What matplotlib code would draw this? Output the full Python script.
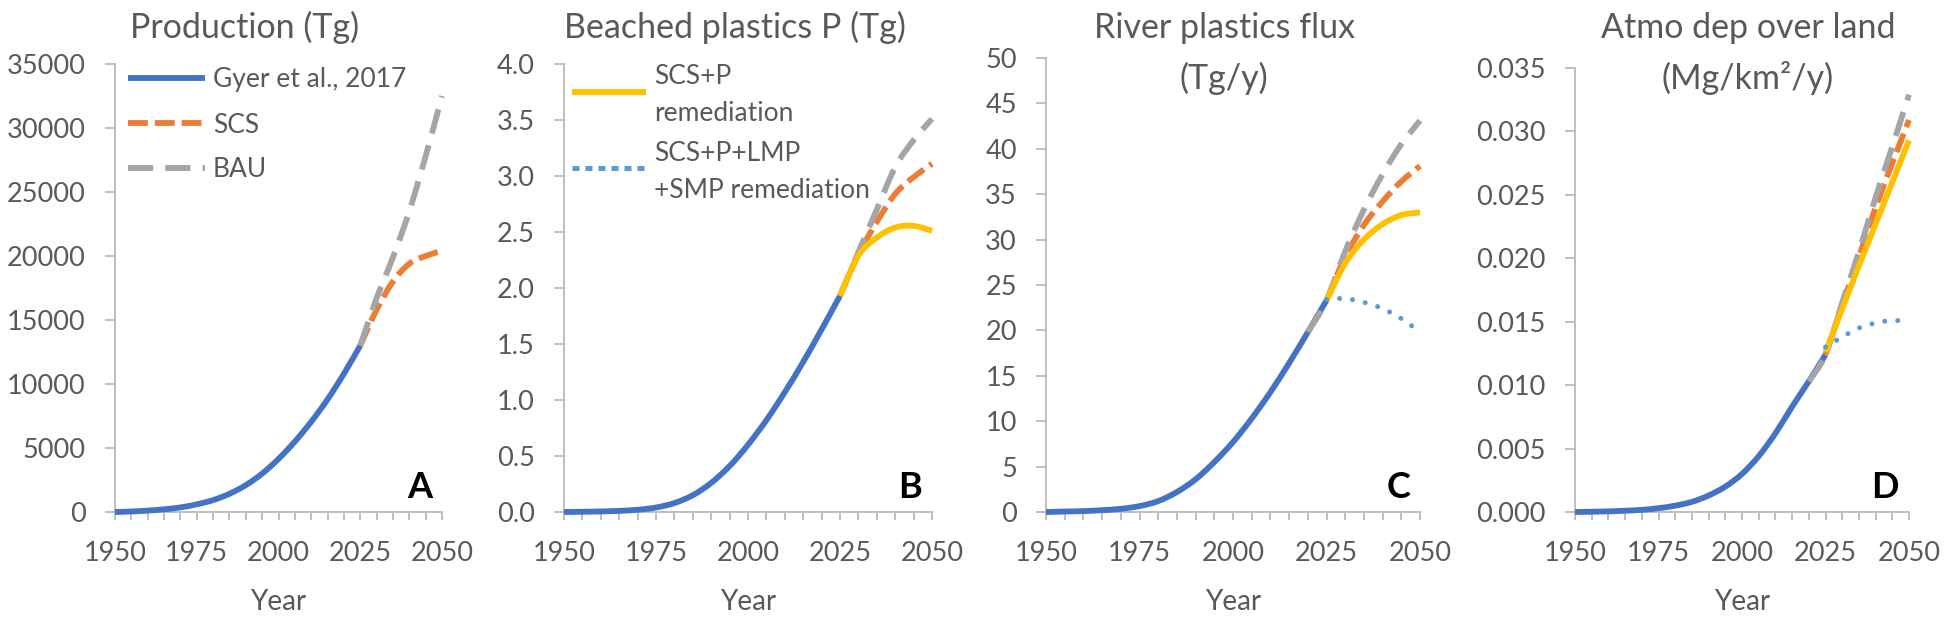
import matplotlib
matplotlib.use("Agg")
import matplotlib.pyplot as plt
from matplotlib.lines import Line2D
from matplotlib.path import Path
from matplotlib.patches import PathPatch
from matplotlib.ticker import MultipleLocator, FormatStrFormatter

plt.rcParams['font.family'] = ['Lato', 'DejaVu Sans']

# ---------------- data ----------------
hist_years = [1950, 1955, 1960, 1965, 1970, 1975, 1980, 1985, 1990, 1995,
              2000, 2005, 2010, 2015, 2020, 2025]
proj_years = [2025, 2030, 2035, 2040, 2045, 2050]
proj_years_bau_cd = [2020, 2025, 2030, 2035, 2040, 2045, 2050]

# A: Production (Tg)
prodA_hist = [0, 40, 110, 210, 360, 600, 930, 1420, 2100, 3000,
              4150, 5500, 7050, 8800, 10800, 13000]
prodA_scs = [13000, 15800, 18000, 19400, 20000, 20400]
prodA_bau = [13000, 16700, 19900, 23500, 27800, 32500]

# B: Beached plastics P (Tg)
beachB_hist = [0, 0.002, 0.005, 0.01, 0.02, 0.04, 0.08, 0.15, 0.26, 0.41,
               0.60, 0.82, 1.07, 1.34, 1.63, 1.93]
beachB_scs = [1.93, 2.30, 2.59, 2.84, 2.99, 3.11]
beachB_bau = [1.93, 2.32, 2.70, 3.08, 3.32, 3.51]
beachB_scsp = [1.93, 2.29, 2.45, 2.54, 2.555, 2.51]

# C: River plastics flux (Tg/y)
riverC_hist = [0, 0.05, 0.1, 0.2, 0.35, 0.65, 1.2, 2.2, 3.6, 5.5,
               7.7, 10.3, 13.2, 16.4, 19.8, 23.3]
riverC_scs = [23.3, 28.1, 31.6, 34.2, 36.4, 38.1]
riverC_bau = [19.8, 23.3, 28.7, 33.3, 37.2, 40.5, 43.1]
riverC_scsp = [23.3, 27.4, 30.0, 31.7, 32.7, 33.0]
riverC_all = [23.4, 23.5, 23.1, 22.4, 21.3, 19.8]

# D: Atmo dep over land (Mg/km2/y)
atmoD_hist = [0, 0.00002, 0.00005, 0.0001, 0.00017, 0.0003, 0.0005, 0.0008,
              0.0013, 0.0020, 0.0030, 0.0044, 0.0062, 0.0083, 0.0103, 0.0124]
atmoD_scs = [0.0124, 0.0163, 0.0201, 0.0240, 0.0275, 0.0309]
atmoD_bau = [0.0103, 0.0124, 0.0165, 0.0205, 0.0248, 0.0288, 0.0329]
atmoD_scsp = [0.0126, 0.0160, 0.0194, 0.0227, 0.0260, 0.0293]
atmoD_all = [0.0130, 0.0138, 0.0145, 0.0149, 0.0151, 0.0150]

titles = [["Production (Tg)"], ["Beached plastics P (Tg)"],
          ["River plastics flux", "(Tg/y)"],
          ["Atmo dep over land", "(Mg/km\u00b2/y)"]]
letters = ["A", "B", "C", "D"]
ylims = [(0, 35000), (0, 4.0), (0, 50), (0, 0.035)]
ysteps = [5000, 0.5, 5, 0.005]
yfmts = ["%d", "%.1f", "%d", "%.3f"]
xticks = [1950, 1975, 2000, 2025, 2050]

legend_labels_A = ["Gyer et al., 2017", "SCS", "BAU"]
legend_labels_B = [["SCS+P", "remediation"], ["SCS+P+LMP", "+SMP remediation"]]

# ---------------- style ----------------
C_BLUE = "#4472C4"
C_ORANGE = "#ED7D31"
C_GRAY = "#A5A5A5"
C_YELLOW = "#FFC000"
C_DOT = "#5B9BD5"
TXT = "#595959"
SPINE = "#BFBFBF"

W, H = 1944, 621
fig = plt.figure(figsize=(W / 100, H / 100), dpi=100)


def fx(px):
    return px / W


def fy(py):
    return 1 - py / H


# axes boxes in pixels: left, right, bottom(y from top), top(y from top)
boxes = [(115, 442, 512, 64), (564, 932, 512, 64),
         (1046, 1420, 512, 58), (1575, 1909, 512, 68)]

LW = 4.2
ORANGE_DASH = (3.4, 1.2)
GRAY_DASH = (4.3, 2.1)
DOT_LW = 3.6
DOT_DASH = (0.01, 2.6)


def smooth_line(ax, x, y, z, **kw):
    """Excel-style smoothed line: Catmull-Rom segments as cubic Beziers."""
    pts = list(zip(x, y))
    n = len(pts)
    verts = [pts[0]]
    codes = [Path.MOVETO]
    for i in range(n - 1):
        p0 = pts[i - 1] if i > 0 else pts[i]
        p1 = pts[i]
        p2 = pts[i + 1]
        p3 = pts[i + 2] if i + 2 < n else pts[i + 1]
        c1 = (p1[0] + (p2[0] - p0[0]) / 6.0, p1[1] + (p2[1] - p0[1]) / 6.0)
        c2 = (p2[0] - (p3[0] - p1[0]) / 6.0, p2[1] - (p3[1] - p1[1]) / 6.0)
        verts += [c1, c2, p2]
        codes += [Path.CURVE4] * 3
    patch = PathPatch(Path(verts, codes), fill=False, zorder=z, **kw)
    patch.set_clip_on(False)
    ax.add_patch(patch)


def plot_hist(ax, x, y):
    smooth_line(ax, x, y, 3, edgecolor=C_BLUE, lw=LW, capstyle='butt',
                joinstyle='round')


def plot_scs(ax, x, y):
    smooth_line(ax, x, y, 4, edgecolor=C_ORANGE, lw=LW, capstyle='butt',
                linestyle=(0, ORANGE_DASH))


def plot_bau(ax, x, y):
    smooth_line(ax, x, y, 5, edgecolor=C_GRAY, lw=LW, capstyle='butt',
                linestyle=(0, GRAY_DASH))


def plot_scsp(ax, x, y):
    smooth_line(ax, x, y, 6, edgecolor=C_YELLOW, lw=LW, capstyle='butt',
                joinstyle='round')


def plot_all(ax, x, y):
    smooth_line(ax, x, y, 7, edgecolor=C_DOT, lw=DOT_LW, capstyle='round',
                linestyle=(0, DOT_DASH))


axes = []
for i, (l, r, b, t) in enumerate(boxes):
    ax = fig.add_axes([l / W, (H - b) / H, (r - l) / W, (b - t) / H])
    axes.append(ax)
    ax.set_xlim(1950, 2050)
    ax.set_ylim(*ylims[i])
    for s in ['top', 'right']:
        ax.spines[s].set_visible(False)
    for s in ['left', 'bottom']:
        ax.spines[s].set_color(SPINE)
        ax.spines[s].set_linewidth(1.4)
    ax.set_xticks(xticks)
    ax.xaxis.set_minor_locator(MultipleLocator(5))
    ax.yaxis.set_major_locator(MultipleLocator(ysteps[i]))
    ax.yaxis.set_major_formatter(FormatStrFormatter(yfmts[i]))
    ax.tick_params(axis='both', which='both', color=SPINE, width=1.4,
                   labelcolor=TXT, labelsize=19.5)
    ax.tick_params(axis='x', which='both', direction='out', length=5.8, pad=15)
    ax.tick_params(axis='y', which='major', direction='out', length=7, pad=14)
    ax.set_xlabel("Year", fontsize=20, color=TXT, labelpad=17)
    ax.patch.set_alpha(0)
    ax.annotate(letters[i], xy=(1, 0), xycoords='axes fraction',
                xytext=(-10, 14), textcoords='offset pixels',
                ha='right', va='baseline', fontsize=26, fontweight='bold',
                color='black', zorder=10)

# Titles (each line placed at its baseline)
title_x = [245, 735, 1224, 1748]
title_baselines = [38, 89]
for x, lines in zip(title_x, titles):
    for k, line in enumerate(lines):
        fig.text(fx(x), fy(title_baselines[k]), line, ha='center',
                 va='baseline', fontsize=24.5, color=TXT)

# A
ax = axes[0]
plot_hist(ax, hist_years, prodA_hist)
plot_scs(ax, proj_years, prodA_scs)
plot_bau(ax, proj_years, prodA_bau)

# B
ax = axes[1]
plot_hist(ax, hist_years, beachB_hist)
plot_scs(ax, proj_years, beachB_scs)
plot_bau(ax, proj_years, beachB_bau)
plot_scsp(ax, proj_years, beachB_scsp)

# C
ax = axes[2]
plot_hist(ax, hist_years, riverC_hist)
plot_scs(ax, proj_years, riverC_scs)
plot_bau(ax, proj_years_bau_cd, riverC_bau)
plot_scsp(ax, proj_years, riverC_scsp)
plot_all(ax, proj_years, riverC_all)

# D
ax = axes[3]
plot_hist(ax, hist_years, atmoD_hist)
plot_scs(ax, proj_years, atmoD_scs)
plot_bau(ax, proj_years_bau_cd, atmoD_bau)
plot_scsp(ax, proj_years, atmoD_scsp)
plot_all(ax, proj_years, atmoD_all)

# ---------------- legends (drawn as keys + text) ----------------
LEG_FS = 19


def key(x0, x1, y, **kw):
    ln = Line2D([fx(x0), fx(x1)], [fy(y), fy(y)], transform=fig.transFigure,
                solid_capstyle='butt', dash_capstyle='butt', **kw)
    fig.add_artist(ln)


# Legend A
key(128, 205, 78, color=C_BLUE, lw=LW)
key(128, 205, 123, color=C_ORANGE, lw=LW, dashes=ORANGE_DASH)
key(128, 205, 168, color=C_GRAY, lw=LW, dashes=GRAY_DASH)
for lab, yb in zip(legend_labels_A, [87.5, 132.5, 177.5]):
    fig.text(fx(213), fy(yb), lab, ha='left', va='baseline',
             fontsize=LEG_FS, color=TXT)

# Legend B
key(572, 646, 92, color=C_YELLOW, lw=LW)
key(572, 646, 168, color=C_DOT, lw=DOT_LW, dashes=(1.4, 1.2))
for lines, ybs in zip(legend_labels_B, [[84, 121], [161, 198]]):
    for line, yb in zip(lines, ybs):
        fig.text(fx(654), fy(yb), line, ha='left', va='baseline',
                 fontsize=LEG_FS, color=TXT)

fig.savefig("out.png", dpi=100)
